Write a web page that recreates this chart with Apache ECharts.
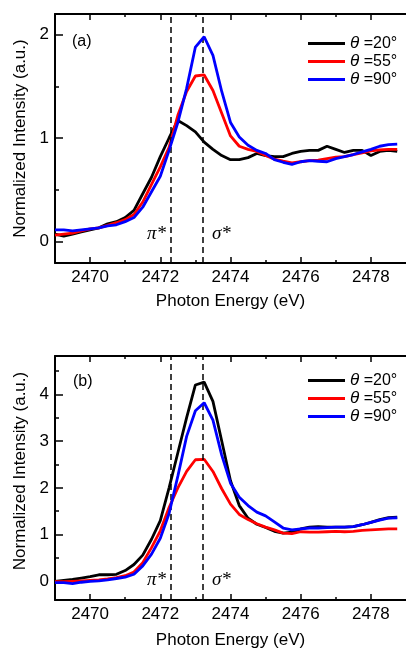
<!DOCTYPE html>
<html>
<head>
<meta charset="utf-8">
<script src="https://cdn.jsdelivr.net/npm/echarts@6/dist/echarts.min.js"></script>
<style>
html,body{margin:0;padding:0;background:#fff;}
#chart{width:406px;height:650px;}
</style>
</head>
<body>
<div id="chart"></div>
<script>
// Photon energy grid (eV)
const energy = [2469.00,2469.25,2469.50,2469.75,2470.00,2470.25,2470.50,2470.75,2471.00,2471.25,
  2471.50,2471.75,2472.00,2472.25,2472.50,2472.75,2473.00,2473.25,2473.50,2473.75,
  2474.00,2474.25,2474.50,2474.75,2475.00,2475.25,2475.50,2475.75,2476.00,2476.25,
  2476.50,2476.75,2477.00,2477.25,2477.50,2477.75,2478.00,2478.25,2478.50,2478.75];

// Panel (a)
const a20 = [0.07,0.05,0.07,0.09,0.11,0.13,0.17,0.19,0.23,0.30,
  0.46,0.62,0.82,1.00,1.17,1.12,1.06,0.96,0.89,0.83,
  0.79,0.79,0.81,0.85,0.83,0.82,0.82,0.85,0.87,0.88,
  0.88,0.92,0.89,0.86,0.88,0.88,0.83,0.87,0.88,0.87];
const a55 = [0.06,0.07,0.08,0.10,0.12,0.13,0.155,0.18,0.21,0.26,
  0.38,0.55,0.72,0.91,1.22,1.45,1.60,1.61,1.46,1.24,
  1.02,0.92,0.89,0.87,0.83,0.795,0.775,0.76,0.77,0.78,
  0.785,0.80,0.815,0.82,0.84,0.855,0.875,0.885,0.89,0.89];
const a90 = [0.11,0.11,0.10,0.11,0.12,0.13,0.15,0.16,0.19,0.23,
  0.33,0.48,0.63,0.88,1.15,1.48,1.88,1.98,1.80,1.45,
  1.15,1.01,0.93,0.88,0.85,0.79,0.765,0.745,0.77,0.78,
  0.775,0.77,0.80,0.82,0.84,0.865,0.89,0.92,0.935,0.94];

// Panel (b)
const b20 = [0.00,0.02,0.04,0.07,0.10,0.14,0.14,0.15,0.23,0.36,
  0.56,0.90,1.30,2.00,2.75,3.50,4.20,4.26,3.85,3.00,
  2.15,1.62,1.35,1.22,1.15,1.07,1.03,1.05,1.12,1.16,
  1.17,1.16,1.16,1.16,1.17,1.21,1.26,1.32,1.36,1.37];
const b55 = [-0.01,-0.01,0.00,0.01,0.02,0.03,0.05,0.08,0.12,0.20,
  0.40,0.72,1.08,1.58,2.00,2.35,2.60,2.61,2.35,1.98,
  1.65,1.43,1.32,1.23,1.16,1.10,1.03,1.02,1.06,1.05,
  1.05,1.06,1.07,1.06,1.07,1.09,1.10,1.11,1.12,1.12];
const b90 = [-0.03,-0.03,-0.05,-0.02,0.00,0.01,0.03,0.06,0.09,0.15,
  0.33,0.58,0.92,1.45,2.25,3.10,3.65,3.82,3.45,2.70,
  2.10,1.80,1.62,1.48,1.40,1.27,1.14,1.10,1.12,1.14,
  1.14,1.15,1.16,1.16,1.17,1.21,1.26,1.31,1.35,1.36];

const seriesNames = ['θ =20°','θ =55°','θ =90°'];
const colors = ['#000000','#ff0000','#0000ff'];
const xMajor = [2470,2472,2474,2476,2478];
const xMinor = [2471,2473,2475,2477];
const yMajorA = [0,1,2], yMinorA = [0.5,1.5];
const yMajorB = [0,1,2,3,4], yMinorB = [0.5,1.5,2.5,3.5,4.5];
const peakLines = [2472.3, 2473.2];

const FONT = 'Liberation Sans, Arial, sans-serif';
const grids = [
  {left:55, width:362, top:14, height:249},
  {left:55, width:362, top:356, height:249}
];

function pairs(vals){ return energy.map((e,i)=>[e, vals[i]]); }
const plain = v => String(v);

const xAxes = [], yAxes = [];
grids.forEach((g, gi) => {
  const base = {gridIndex: gi, type:'value', min:2469, max:2479, splitLine:{show:false}};
  xAxes.push(Object.assign({}, base, {
    position:'bottom',
    axisLine:{show:true, onZero:false, lineStyle:{color:'#000', width:2}},
    axisTick:{show:true, inside:true, length:6, customValues:xMajor, lineStyle:{color:'#000', width:1.5}},
    axisLabel:{show:true, customValues:xMajor, formatter:plain, color:'#000', fontSize:17, fontFamily:FONT, margin:6},
    name:'Photon Energy (eV)', nameLocation:'middle', nameGap: gi===0 ? 30 : 32,
    nameTextStyle:{color:'#000', fontSize:17, fontFamily:FONT}
  }));
  xAxes.push(Object.assign({}, base, {
    position:'bottom',
    axisLine:{show:false, onZero:false},
    axisTick:{show:true, inside:true, length:3, customValues:xMinor, lineStyle:{color:'#000', width:1.5}},
    axisLabel:{show:false}
  }));
  xAxes.push(Object.assign({}, base, {
    position:'top',
    axisLine:{show:true, onZero:false, lineStyle:{color:'#000', width:2}},
    axisTick:{show:true, inside:true, length:6, customValues:xMajor, lineStyle:{color:'#000', width:1.5}},
    axisLabel:{show:false}
  }));
  xAxes.push(Object.assign({}, base, {
    position:'top',
    axisLine:{show:false, onZero:false},
    axisTick:{show:true, inside:true, length:3, customValues:xMinor, lineStyle:{color:'#000', width:1.5}},
    axisLabel:{show:false}
  }));
  const ymin = gi===0 ? -0.21 : -0.4;
  const ymax = gi===0 ? 2.2 : 4.82;
  const maj = gi===0 ? yMajorA : yMajorB;
  const mnr = gi===0 ? yMinorA : yMinorB;
  yAxes.push({
    gridIndex: gi, type:'value', min:ymin, max:ymax, position:'left', splitLine:{show:false},
    axisLine:{show:true, onZero:false, lineStyle:{color:'#000', width:2}},
    axisTick:{show:true, inside:true, length:8, customValues:maj, lineStyle:{color:'#000', width:1.5}},
    axisLabel:{show:true, customValues:maj, formatter:plain, color:'#000', fontSize:17, fontFamily:FONT, margin:6},
    name:'Normalized Intensity (a.u.)', nameLocation:'middle', nameGap:25,
    nameTextStyle:{color:'#000', fontSize:17, fontFamily:FONT, padding: gi===0 ? [0,0,0,0] : [0,0,0,14]}
  });
  yAxes.push({
    gridIndex: gi, type:'value', min:ymin, max:ymax, position:'left', splitLine:{show:false},
    axisLine:{show:false, onZero:false},
    axisTick:{show:true, inside:true, length:4, customValues:mnr, lineStyle:{color:'#000', width:1.5}},
    axisLabel:{show:false}
  });
});

const panelData = [[a20,a55,a90],[b20,b55,b90]];
const series = [];
panelData.forEach((set, gi) => {
  set.forEach((vals, si) => {
    const s = {
      type:'line', name:seriesNames[si], xAxisIndex: gi*4, yAxisIndex: gi*2,
      data: pairs(vals), showSymbol:false, symbol:'none', smooth:false,
      lineStyle:{color:colors[si], width:2.8}, itemStyle:{color:colors[si]},
      z: 3 + si, animation:false
    };
    if (si === 0) {
      s.markLine = {
        silent:true, symbol:'none', animation:false,
        label:{show:false},
        lineStyle:{color:'#000', width:1.5, type:[6,4]},
        data: peakLines.map(v => ({xAxis:v}))
      };
    }
    series.push(s);
  });
});

const legendBase = {
  data: seriesNames, left:308, orient:'vertical', itemWidth:37, itemHeight:12, itemGap:1, padding:0,
  icon:'path://M0,5 L37,5 L37,8 L0,8 Z',
  formatter: n => '{t|θ}{r|' + n.slice(1) + '}',
  textStyle:{color:'#000', fontSize:16, fontFamily:FONT, lineHeight:17,
    rich:{t:{fontStyle:'italic', fontSize:17, lineHeight:17, fontFamily:FONT, color:'#000'},
          r:{fontSize:16, lineHeight:17, fontFamily:FONT, color:'#000'}}},
  selectedMode:false
};

const option = {
  animation:false,
  backgroundColor:'#fff',
  grid: grids,
  xAxis: xAxes,
  yAxis: yAxes,
  legend: [Object.assign({}, legendBase, {top:35}), Object.assign({}, legendBase, {top:372})],
  graphic: [
    {type:'text', left:72, top:34, style:{text:'(a)', fontSize:16, fontFamily:FONT, fill:'#000'}},
    {type:'text', left:73, top:374, style:{text:'(b)', fontSize:16, fontFamily:FONT, fill:'#000'}},
    {type:'text', left:147, top:224, style:{text:'π*', fontSize:19, fontStyle:'italic', fontFamily:'Liberation Serif, serif', fill:'#000'}},
    {type:'text', left:212, top:224, style:{text:'σ*', fontSize:19, fontStyle:'italic', fontFamily:'Liberation Serif, serif', fill:'#000'}},
    {type:'text', left:147, top:570, style:{text:'π*', fontSize:19, fontStyle:'italic', fontFamily:'Liberation Serif, serif', fill:'#000'}},
    {type:'text', left:212, top:570, style:{text:'σ*', fontSize:19, fontStyle:'italic', fontFamily:'Liberation Serif, serif', fill:'#000'}}
  ],
  series: series
};

const chart = echarts.init(document.getElementById('chart'), null, {renderer:'canvas'});
chart.setOption(option);
</script>
</body>
</html>
